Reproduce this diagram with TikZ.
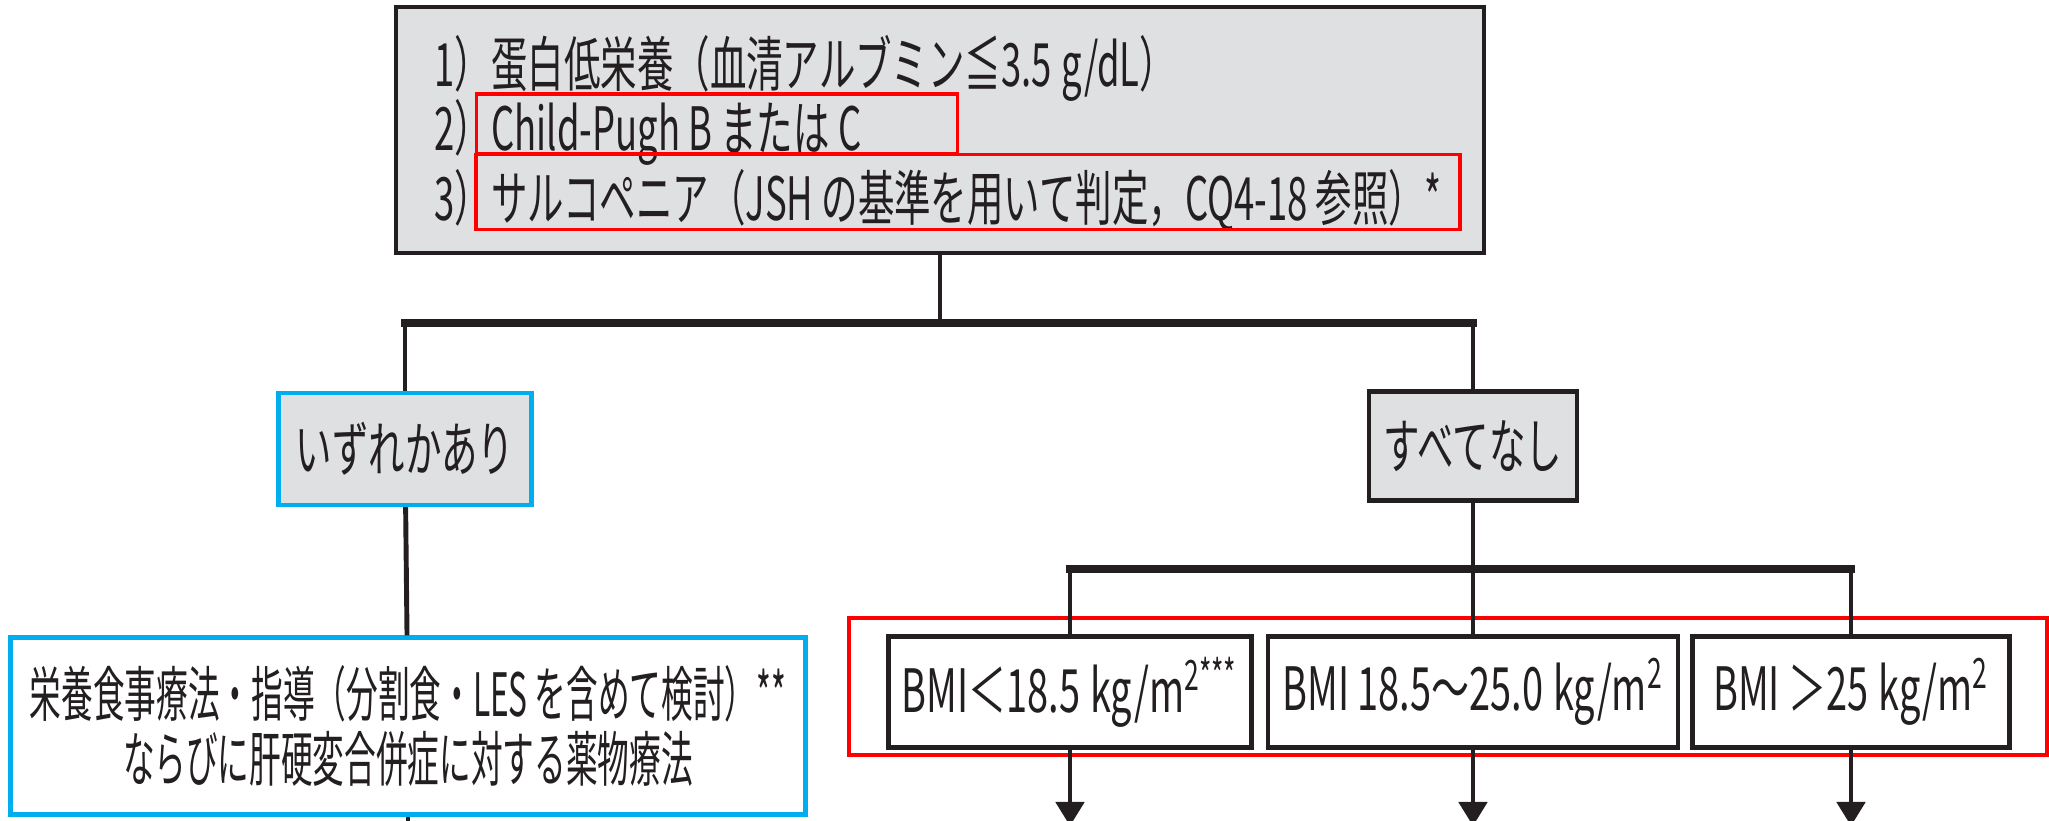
\documentclass[tikz,border=0pt]{standalone}
\usepackage{fontspec}
\usepackage{xcolor}
\usepackage{tikz}
\usetikzlibrary{arrows.meta}

\newfontfamily\jp[FakeStretch=0.61]{Noto Sans CJK JP}
\newfontfamily\jpn[FakeStretch=0.53]{Noto Sans CJK JP}
\newfontfamily\jpb[FakeStretch=0.635]{Noto Sans CJK JP}

\definecolor{boxgray}{RGB}{223,224,226}
\definecolor{boxcyan}{RGB}{0,174,239}
\definecolor{ink}{RGB}{35,31,32}

\begin{document}
\begin{tikzpicture}[ x = 1cm, y = 1cm ]
    \clip (0,0) rectangle (20.49,-8.21);

    \tikzset{Box/.style  = {draw = ink, line width = 1.2pt, inner sep = 0pt, text = ink},
             Line/.style = {anchor = west, inner sep = 0pt, text = ink,
                            font = \jp\fontsize{17}{20}\selectfont},
             Mark/.style = {draw = red, line width = 0.9pt, inner sep = 0pt},
             Link/.style = {draw = ink, line width = 1.4pt},
             Bar/.style  = {draw = ink, line width = 2pt, line cap = rect}}

    % condition
    \node[Box, fill = boxgray, minimum width = 10.88cm, minimum height = 2.46cm] (Cond) at (9.40,-1.30) {};
    \node[Line] (C1) at (4.34,-0.68) {1）蛋白低栄養（血清アルブミン≦3.5\,g/dL）};
    \node[Line] (C2) at (4.34,-1.32) {2）Child-Pugh B または C};
    \node[Line] (C3) at (4.34,-2.00) {3）サルコペニア（JSH の基準を用いて判定，CQ4-18 参照）*};
    \node[Mark, minimum width = 4.81cm, minimum height = 0.60cm] (Mark1) at (7.17,-1.24) {};
    \node[Mark, minimum width = 9.84cm, minimum height = 0.75cm] (Mark2) at (9.68,-1.92) {};

    \node[Box, draw = boxcyan, fill = boxgray, minimum width = 2.53cm, minimum height = 1.12cm,
          font = \jp\fontsize{17}{20}\selectfont] (Any) at (4.05,-4.49) {いずれかあり};
    \node[Box, fill = boxgray, minimum width = 2.08cm, minimum height = 1.09cm,
          font = \jp\fontsize{17}{20}\selectfont] (None) at (14.73,-4.46) {すべてなし};

    \node[Box, draw = boxcyan, fill = white, minimum width = 7.95cm, minimum height = 1.77cm,
          align = center, font = \jpn\fontsize{17}{18.5}\selectfont] (Treat) at (4.08,-7.26)
          {栄養食事療法・指導（分割食・LES を含めて検討）**\\ならびに肝硬変合併症に対する薬物療法};

    % BMI
    \node[Box, fill = white, minimum width = 3.63cm, minimum height = 1.11cm,
          font = \jpb\fontsize{17}{20}\selectfont] (B1) at (10.70,-6.92) {BMI＜18.5\,kg/m\textsuperscript{2***}};
    \node[Box, fill = white, minimum width = 4.10cm, minimum height = 1.11cm,
          font = \jpb\fontsize{17}{20}\selectfont] (B2) at (14.73,-6.92) {BMI 18.5～25.0\,kg/m\textsuperscript{2}};
    \node[Box, fill = white, minimum width = 3.17cm, minimum height = 1.11cm,
          font = \jpb\fontsize{17}{20}\selectfont] (B3) at (18.51,-6.92) {BMI ＞25\,kg/m\textsuperscript{2}};
    \node[Mark, line width = 1.1pt, minimum width = 11.98cm, minimum height = 1.37cm] (Mark3) at (14.48,-6.865) {};

    \coordinate (J1) at (9.40,-3.23);
    \coordinate (J2) at (14.73,-5.69);
    \coordinate (End) at (0,-8.26);

    \draw[Link] (Cond) -- (J1);
    \draw[Bar] (Any.north |- J1) -- (None.north |- J1);
    \draw[Link] (Any.north |- J1) -- (Any);
    \draw[Link] (None.north |- J1) -- (None);
    \draw[Link] (Any) -- (Treat);
    \draw[Link] (Treat) -- (Treat.south |- End);

    \draw[Link] (None) -- (J2);
    \draw[Bar] (B1.north |- J2) -- (B3.north |- J2);
    \foreach \b in {B1,B2,B3} {
        \draw[Link] (\b.north |- J2) -- (\b);
        \draw[Link, -{Triangle[length=0.24cm, width=0.28cm]}] (\b) -- (\b.south |- End);
    }

\end{tikzpicture}
\end{document}
